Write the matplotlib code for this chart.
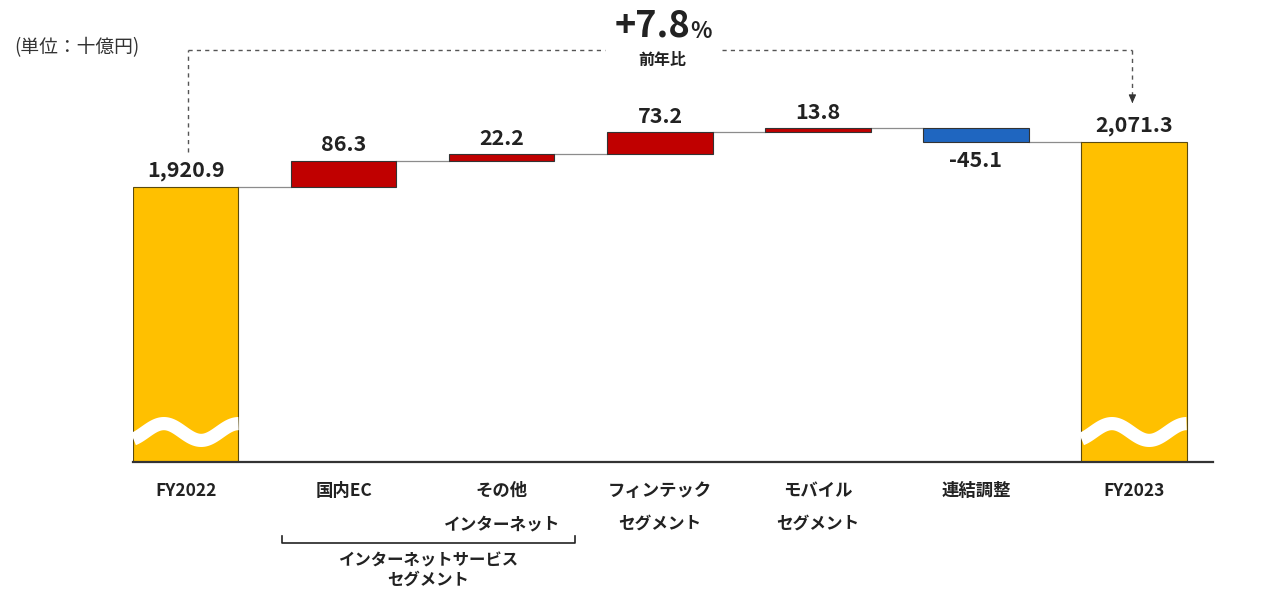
import numpy as np
import matplotlib.pyplot as plt
import matplotlib.transforms as mtransforms

plt.rcParams['font.family'] = ['Noto Sans CJK JP', 'DejaVu Sans']

# データ（単位：十億円）
カテゴリ = ['FY2022', '国内EC', 'その他\nインターネット', 'フィンテック\nセグメント',
          'モバイル\nセグメント', '連結調整', 'FY2023']
開始値 = 1920.9
増減 = [86.3, 22.2, 73.2, 13.8, -45.1]
終了値 = 2071.3
ラベル = ['1,920.9', '86.3', '22.2', '73.2', '13.8', '-45.1', '2,071.3']

W, H = 1279, 594
fig = plt.figure(figsize=(W / 100, H / 100), dpi=100)

def fx(px):
    return px / W

def fy(py):
    return 1 - py / H

# 軸の配置（下端 = 省略された軸の底）
y_floor = 1004
ax = fig.add_axes([fx(133), fy(462), fx(1080), (462 - 20) / H])
ax.set_xlim(-0.335, 6.5)
ax.set_ylim(y_floor, y_floor + 442 / 0.3)
ax.axis('off')

yellow = '#FFC000'
red = '#C00000'
blue = '#1F66C0'
w = 0.665

# 合計バー
ax.bar([0, 6], [開始値 - y_floor, 終了値 - y_floor], bottom=y_floor, width=w,
       color=yellow, edgecolor='#5a4a10', linewidth=0.8, zorder=2)

# 増減バー
cum = 開始値
levels = [開始値]
for i, d in enumerate(増減, start=1):
    lo = cum if d > 0 else cum + d
    ax.bar(i, abs(d), bottom=lo, width=w, color=red if d > 0 else blue,
           edgecolor='#333333', linewidth=0.8, zorder=2)
    cum += d
    levels.append(cum)
levels.append(終了値)

# つなぎ線
for i in range(len(levels) - 1):
    ax.plot([i + w / 2, i + 1 - w / 2], [levels[i], levels[i]],
            color='#8c8c8c', lw=0.9, zorder=1)

# 値ラベル
tops = [開始値]
cum = 開始値
for d in 増減:
    tops.append(max(cum, cum + d))
    cum += d
tops.append(終了値)
for i, lab in enumerate(ラベル):
    if 1 <= i <= 5 and 増減[i - 1] < 0:
        ax.annotate(lab, (i, levels[i]), xytext=(0, -6), textcoords='offset points',
                    ha='center', va='top', fontsize=15.5, fontweight='bold', color='#222222')
    else:
        ax.annotate(lab, (i, tops[i]), xytext=(0, 4), textcoords='offset points',
                    ha='center', va='bottom', fontsize=15.5, fontweight='bold', color='#222222')

# 波線（軸省略）
t = np.linspace(0, 1, 100)
for xi in (0, 6):
    xs = xi - w / 2 + t * w
    ys = 1104 + 28 * np.cos(2 * np.pi * (t - 0.29) / 0.71)
    ax.plot(xs, ys, color='white', lw=9.5, solid_capstyle='butt', zorder=3)

# 基準線
ax.plot([-0.335, 6.5], [y_floor, y_floor], color='#333333', lw=1.6, clip_on=False, zorder=4)

# カテゴリラベル
tr = mtransforms.blended_transform_factory(ax.transData, fig.transFigure)
for i, c in enumerate(カテゴリ):
    parts = c.split('\n')
    ax.text(i, fy(491), parts[0], transform=tr, ha='center', va='center',
            fontsize=12.5, fontweight='bold', color='#222222')
    if len(parts) > 1:
        ax.text(i, fy(524), parts[1], transform=tr, ha='center', va='center',
                fontsize=12, fontweight='bold', color='#222222')

# インターネットサービス セグメントの括弧
bx0, bx1 = (282 - 186) / 158, (575 - 186) / 158
ax.plot([bx0, bx0, bx1, bx1], [fy(536), fy(543), fy(543), fy(536)], transform=tr,
        color='#222222', lw=1.2, clip_on=False)
ax.text((bx0 + bx1) / 2, fy(560), 'インターネットサービス', transform=tr, ha='center',
        va='center', fontsize=11.8, fontweight='bold', color='#222222')
ax.text((bx0 + bx1) / 2, fy(580), 'セグメント', transform=tr, ha='center',
        va='center', fontsize=11.8, fontweight='bold', color='#222222')

# 前年比の点線
dash = dict(color='#555555', lw=1.0, linestyle=(0, (3, 3)), clip_on=False)
ax.plot([0.013, 0.013], [fy(152), fy(50)], transform=tr, **dash)
ax.plot([0.013, (605 - 186) / 158], [fy(50), fy(50)], transform=tr, **dash)
ax.plot([(722 - 186) / 158, 5.99], [fy(50), fy(50)], transform=tr, **dash)
ax.plot([5.99, 5.99], [fy(50), fy(100)], transform=tr, **dash)
ax.annotate('', xy=(5.99, fy(106)), xytext=(5.99, fy(98)), xycoords=tr, textcoords=tr,
            arrowprops=dict(arrowstyle='-|>,head_length=0.5,head_width=0.22',
                            color='#333333', lw=0.8))

fig.text(fx(690), fy(26), '+7.8', ha='right', va='center', fontsize=26,
         fontweight='bold', color='#222222')
fig.text(fx(690), fy(31), '%', ha='left', va='center', fontsize=16,
         fontweight='bold', color='#222222')
fig.text(fx(662), fy(60), '前年比', ha='center', va='center', fontsize=11.5,
         fontweight='bold', color='#222222')

fig.text(fx(14), fy(48), '(単位：十億円)', ha='left', va='center', fontsize=13.5,
         color='#333333')

fig.savefig('out.png', dpi=100)
